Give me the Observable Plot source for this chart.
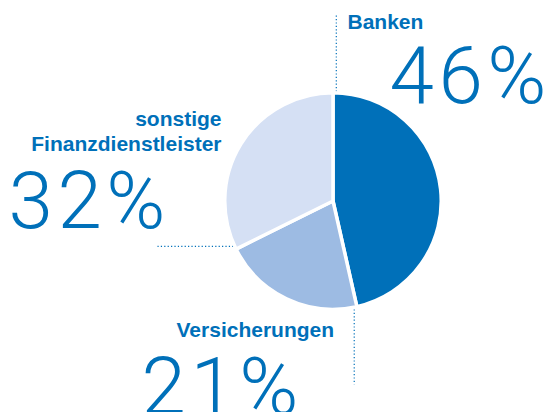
<!DOCTYPE html>
<html><head><meta charset="utf-8">
<script src="https://cdn.jsdelivr.net/npm/d3@7"></script>
<script src="https://cdn.jsdelivr.net/npm/@observablehq/plot@0.6"></script>
<style>
body{margin:0;background:#fff}
svg{display:block}
g[font-size="80"] text{letter-spacing:4.5px}
</style>
</head><body><div id="chart"></div>
<script>
// ---- data ----
const categories = ["Banken", "Versicherungen", "sonstige\nFinanzdienstleister"];
const shares = [46, 21, 32];
const valueLabels = ["46%", "21%", "32%"];
const colors = ["#0070b9", "#9dbbe3", "#d5e0f4"];

// ---- layout (not data) ----
const W = 551, H = 412;
const center = {x: 333, y: 201}, radius = 106.5;
const nameLayout = [
  {x: 347, y: 28, anchor: "start"},
  {x: 176, y: 336, anchor: "start"},
  {x: 221, y: 150, anchor: "end"}
];
const valueLayout = [
  {x: 389, y: 102},
  {x: 141, y: 413},
  {x: 8, y: 227}
];
// leader lines: direction + end coordinate from slice start edge
const leaderLayout = [
  {dir: "v", end: 13},
  {dir: "v", end: 384},
  {dir: "h", end: 157}
];
const blue = "#0070b9";

const arcs = d3.pie().sort(null).value(d => d)(shares);
const idx = d3.range(shares.length);

function startPoint(i) {
  const a = arcs[i].startAngle, off = 2.8;
  return {
    x: center.x + radius * Math.sin(a) + off * Math.cos(a),
    y: center.y - radius * Math.cos(a) + off * Math.sin(a)
  };
}
const leaders = idx.map(i => {
  const p = startPoint(i), L = leaderLayout[i];
  return L.dir === "v"
    ? {x1: p.x, y1: p.y, x2: p.x, y2: L.end}
    : {x1: p.x, y1: p.y, x2: L.end, y2: p.y};
});

function pieMark(index, scales) {
  const r = scales.x(center.x + radius) - scales.x(center.x);
  const arc = d3.arc().innerRadius(0).outerRadius(r + 1.75);
  const g = d3.create("svg:g")
    .attr("transform", `translate(${scales.x(center.x)},${scales.y(center.y)})`);
  g.selectAll("path").data(arcs).join("path")
    .attr("d", arc)
    .attr("fill", (d, i) => colors[i])
    .attr("stroke", "#fff")
    .attr("stroke-width", 3.5)
    .attr("stroke-linejoin", "round");
  return g.node();
}

const nameOpts = anchor => ({
  filter: i => nameLayout[i].anchor === anchor,
  x: i => nameLayout[i].x, y: i => nameLayout[i].y,
  text: i => categories[i], textAnchor: anchor,
  lineAnchor: "bottom", lineHeight: 1.19,
  fontSize: 21, fontWeight: "bold", fill: blue,
  fontFamily: "Liberation Sans, Arial, sans-serif"
});

const chart = Plot.plot({
  width: W, height: H, margin: 0,
  x: {domain: [0, W], range: [0, W], axis: null},
  y: {domain: [0, H], range: [0, H], axis: null},
  marks: [
    Plot.link(leaders, {x1: "x1", y1: "y1", x2: "x2", y2: "y2",
      stroke: blue, strokeWidth: 1.2, strokeDasharray: "1.2,2.2"}),
    pieMark,
    Plot.text(idx, nameOpts("start")),
    Plot.text(idx, nameOpts("end")),
    Plot.text(idx, {
      x: i => valueLayout[i].x, y: i => valueLayout[i].y,
      text: i => valueLabels[i], textAnchor: "start",
      lineAnchor: "bottom",
      fontSize: 80, fontWeight: 300, fill: blue,
      fontFamily: "Roboto, Liberation Sans, sans-serif"
    })
  ]
});
document.getElementById("chart").append(chart);
</script>
</body></html>
